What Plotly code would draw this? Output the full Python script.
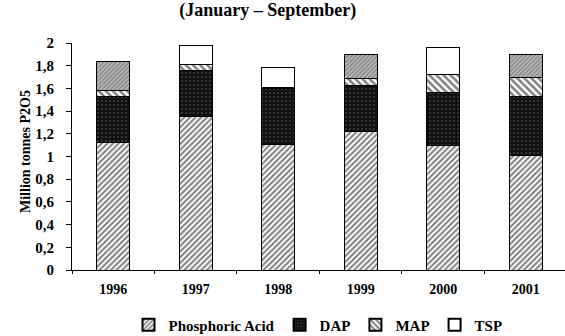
import plotly.graph_objects as go

# Phosphate product output, January - September, million tonnes P2O5
years = ["1996", "1997", "1998", "1999", "2000", "2001"]
phosphoric_acid = [1.12, 1.35, 1.11, 1.22, 1.10, 1.01]
dap = [0.41, 0.41, 0.49, 0.41, 0.46, 0.52]
map_ = [0.05, 0.05, 0.01, 0.06, 0.16, 0.17]
tsp = [0.26, 0.17, 0.17, 0.21, 0.24, 0.20]
# TSP segments printed with a grey texture in some years
tsp_shaded = [True, False, False, True, False, True]

y_ticks = [0, 0.2, 0.4, 0.6, 0.8, 1, 1.2, 1.4, 1.6, 1.8, 2]

SERIF = "Liberation Serif"
W, H = 565, 336
L, R, T, B = 72, 0, 43, 66
BAR_W = 0.4
outline = dict(color="black", width=1)

fig = go.Figure()

fig.add_bar(
    name="Phosphoric Acid", x=years, y=phosphoric_acid, width=BAR_W,
    marker=dict(color="white", line=outline,
                pattern=dict(shape="/", fgcolor="black", bgcolor="white",
                             size=4, solidity=0.5)),
)
fig.add_bar(
    name="DAP", x=years, y=dap, width=BAR_W,
    marker=dict(color="#111111", line=outline,
                pattern=dict(shape=".", fgcolor="#6e6e6e", bgcolor="#111111",
                             size=4, solidity=0.2)),
)
fig.add_bar(
    name="MAP", x=years, y=map_, width=BAR_W,
    marker=dict(color="white", line=outline,
                pattern=dict(shape="\\", fgcolor="black", bgcolor="white",
                             size=5, solidity=0.5)),
)
fig.add_bar(
    name="TSP", x=years,
    y=[None if s else v for v, s in zip(tsp, tsp_shaded)], width=BAR_W,
    marker=dict(color="white", line=outline),
)
fig.add_bar(
    name="TSP", x=years, showlegend=False,
    y=[v if s else None for v, s in zip(tsp, tsp_shaded)], width=BAR_W,
    marker=dict(color="#a8a8a8", line=outline,
                pattern=dict(shape="/", fgcolor="#444444", bgcolor="#bdbdbd",
                             size=3, solidity=0.45)),
)

fig.update_layout(
    width=W, height=H,
    margin=dict(l=L, r=R, t=T, b=B, pad=0),
    barmode="stack",
    paper_bgcolor="white", plot_bgcolor="white",
    separators=", ",
    font=dict(family=SERIF, color="black", size=14),
    title=dict(text="(January – September)", x=0.474, xref="container",
               xanchor="center", y=1 - 10 / H, yref="container",
               yanchor="middle",
               font=dict(family=SERIF, size=18, weight="bold")),
    showlegend=True,
    legend=dict(orientation="h", traceorder="normal",
                x=318 / W, xref="container", xanchor="center",
                y=1 - 325 / H, yref="container", yanchor="middle",
                font=dict(family=SERIF, size=15, weight="bold"),
                itemwidth=30, itemsizing="constant", tracegroupgap=0),
    bargap=0.6,
)

fig.update_xaxes(
    type="category", range=[-0.5, 5.476],
    showline=True, linecolor="black", linewidth=1,
    ticks="outside", tickson="boundaries", ticklen=3, tickcolor="black",
    showgrid=False, zeroline=False,
    tickfont=dict(family=SERIF, size=14, weight="bold"),
    ticklabelstandoff=6,
)
fig.update_yaxes(
    range=[0, 2], tickvals=y_ticks,
    showline=True, linecolor="black", linewidth=1,
    ticks="outside", ticklen=5, tickcolor="black",
    showgrid=False, zeroline=False,
    tickfont=dict(family=SERIF, size=15, weight="bold"),
    ticklabelstandoff=9,
)

fig.add_annotation(
    text="Million tonnes P2O5", textangle=-90,
    xref="paper", yref="paper",
    x=(25 - L) / (W - L - R), y=(270 - 152) / (H - T - B),
    xanchor="center", yanchor="middle", showarrow=False,
    font=dict(family=SERIF, size=14, weight="bold"),
)

fig.write_html("out.html")
